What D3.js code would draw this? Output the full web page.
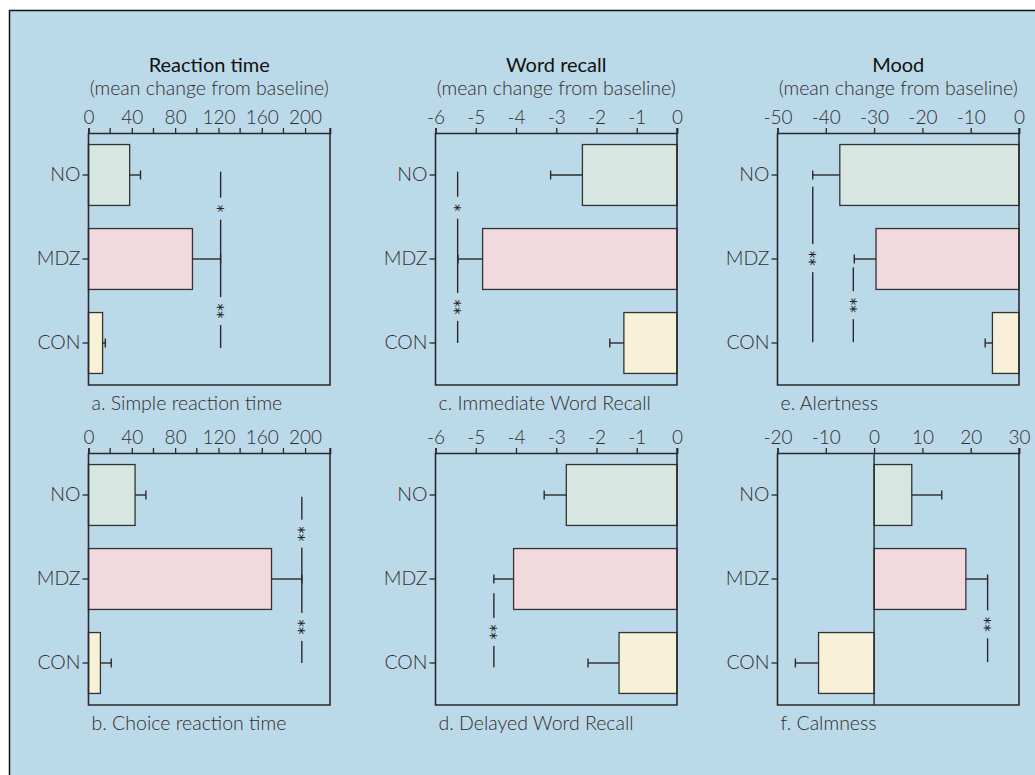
<!DOCTYPE html>
<html>
<head>
<meta charset="utf-8">
<script src="https://cdn.jsdelivr.net/npm/d3@7"></script>
<style>
  html, body { margin: 0; padding: 0; background: #ffffff; }
  svg text { font-family: "Lato", "Open Sans", "DejaVu Sans", sans-serif; fill: #2e2e2e; }
</style>
</head>
<body>
<svg id="chart" width="1035" height="775"></svg>
<script>
// ---------- data ----------
const categories = ["NO", "MDZ", "CON"];

const simpleRT      = [38, 96, 13];
const simpleRTErr   = [48, 122, 15.5];
const choiceRT      = [43, 169, 11];
const choiceRTErr   = [53, 197, 21];
const immRecall     = [-2.35, -4.83, -1.32];
const immRecallErr  = [-3.14, -5.44, -1.67];
const delRecall     = [-2.75, -4.06, -1.44];
const delRecallErr  = [-3.30, -4.55, -2.21];
const alertness     = [-37.1, -29.6, -5.5];
const alertnessErr  = [-42.7, -34.1, -7.0];
const calmness      = [7.8, 19.0, -11.5];
const calmnessErr   = [14.0, 23.5, -16.3];

const rtTickLabels     = [0, 40, 80, 120, 160, 200];
const rtMinorTicks     = [20, 60, 100, 140, 180];
const recallTickLabels = [-6, -5, -4, -3, -2, -1, 0];
const alertTickLabels  = [-50, -40, -30, -20, -10, 0];
const calmTickLabels   = [-20, -10, 0, 10, 20, 30];

const rtDomain     = [0, 223];
const recallDomain = [-6, 0];
const alertDomain  = [-50, 0];
const calmDomain   = [-20, 30];

const columnTitles    = ["Reaction time", "Word recall", "Mood"];
const columnSubtitle  = "(mean change from baseline)";
const captions = ["a. Simple reaction time", "b. Choice reaction time",
                  "c. Immediate Word Recall", "d. Delayed Word Recall",
                  "e. Alertness", "f. Calmness"];

// significance brackets: value position, from/to (category index units), star marks
const sigA = [{x: 122, y0: -0.04, y1: 2.06, marks: [{t: "*", at: 0.40}, {t: "**", at: 1.62}]}];
const sigB = [{x: 197, y0: 0.02, y1: 2.0, marks: [{t: "**", at: 0.46}, {t: "**", at: 1.57}]}];
const sigC = [{x: -5.45, y0: -0.04, y1: 2.0, marks: [{t: "*", at: 0.39}, {t: "**", at: 1.57}]}];
const sigD = [{x: -4.55, y0: 1.17, y1: 2.05, marks: [{t: "**", at: 1.63}]}];
const sigE = [{x: -42.7, y0: 0.14, y1: 1.99, marks: [{t: "**", at: 0.99}]},
              {x: -34.3, y0: 1.10, y1: 1.99, marks: [{t: "**", at: 1.55}]}];
const sigF = [{x: 23.5, y0: 1.04, y1: 1.99, marks: [{t: "**", at: 1.54}]}];

// ---------- layout ----------
const W = 1035, H = 775;
const colLeft = [88.5, 435.5, 777.5];
const rowTop = [133, 453];
const plotW = 241.5, plotH = 252;
const barColors = ["#d6e7e2", "#f2d8df", "#f7f1d8"];
const bg = "#bcd9ea";
const ink = "#2a2a2a";
const lightFont = '"Lato", "Open Sans", sans-serif';

const svg = d3.select("#chart");

// background with frame lines on left and top
svg.append("rect").attr("x", 9).attr("y", 10).attr("width", W - 9).attr("height", H - 10).attr("fill", bg);
svg.append("line").attr("x1", 9.5).attr("x2", 9.5).attr("y1", 10).attr("y2", H).attr("stroke", "#111").attr("stroke-width", 1.5);
svg.append("line").attr("x1", 9).attr("x2", W).attr("y1", 10.5).attr("y2", 10.5).attr("stroke", "#111").attr("stroke-width", 1.5);

const panels = [
  {col: 0, row: 0, vals: simpleRT, errs: simpleRTErr, domain: rtDomain, ticks: rtTickLabels, minor: rtMinorTicks, sig: sigA, cap: captions[0]},
  {col: 0, row: 1, vals: choiceRT, errs: choiceRTErr, domain: rtDomain, ticks: rtTickLabels, minor: rtMinorTicks, sig: sigB, cap: captions[1]},
  {col: 1, row: 0, vals: immRecall, errs: immRecallErr, domain: recallDomain, ticks: recallTickLabels, minor: [], sig: sigC, cap: captions[2]},
  {col: 1, row: 1, vals: delRecall, errs: delRecallErr, domain: recallDomain, ticks: recallTickLabels, minor: [], sig: sigD, cap: captions[3]},
  {col: 2, row: 0, vals: alertness, errs: alertnessErr, domain: alertDomain, ticks: alertTickLabels, minor: [], sig: sigE, cap: captions[4]},
  {col: 2, row: 1, vals: calmness, errs: calmnessErr, domain: calmDomain, ticks: calmTickLabels, minor: [], sig: sigF, cap: captions[5]},
];

// column titles
columnTitles.forEach((t, i) => {
  const cx = colLeft[i] + plotW / 2;
  svg.append("text").attr("x", cx).attr("y", 72).attr("text-anchor", "middle")
    .style("font-size", "20px").style("font-weight", 400).style("fill", "#111").text(t);
  svg.append("text").attr("x", cx).attr("y", 95).attr("text-anchor", "middle")
    .style("font-size", "19.5px").style("font-weight", 300).text(columnSubtitle);
});

panels.forEach(p => {
  const left = colLeft[p.col], top = rowTop[p.row];
  const g = svg.append("g").attr("transform", `translate(${left},${top})`);
  const x = d3.scaleLinear().domain(p.domain).range([0, plotW]);
  const y = d3.scaleBand().domain(categories).range([0, plotH]).paddingInner(0.275).paddingOuter(0.1375);
  const step = y.step();
  const center = i => y(categories[i]) + y.bandwidth() / 2;
  const idxY = v => y.bandwidth() / 2 + y(categories[0]) + v * step;

  // bars
  g.selectAll("rect.bar").data(p.vals).join("rect").attr("class", "bar")
    .attr("x", d => Math.min(x(0), x(d)))
    .attr("width", d => Math.abs(x(d) - x(0)))
    .attr("y", (d, i) => y(categories[i]))
    .attr("height", y.bandwidth())
    .attr("fill", (d, i) => barColors[i])
    .attr("stroke", "#333").attr("stroke-width", 1.3);

  // error bars
  p.errs.forEach((e, i) => {
    const cy = center(i);
    g.append("line").attr("x1", x(p.vals[i])).attr("x2", x(e)).attr("y1", cy).attr("y2", cy)
      .attr("stroke", ink).attr("stroke-width", 1.4);
    g.append("line").attr("x1", x(e)).attr("x2", x(e)).attr("y1", cy - 4.5).attr("y2", cy + 4.5)
      .attr("stroke", ink).attr("stroke-width", 1.4);
  });

  // zero line inside plot if zero is inside domain
  if (p.domain[0] < 0 && p.domain[1] > 0) {
    g.append("line").attr("x1", x(0)).attr("x2", x(0)).attr("y1", 0).attr("y2", plotH)
      .attr("stroke", ink).attr("stroke-width", 1.4);
  }

  // frame (left, right, bottom)
  g.append("path").attr("d", `M0,0 V${plotH} H${plotW} V0`).attr("fill", "none")
    .attr("stroke", ink).attr("stroke-width", 1.6);

  // top axis
  const axTop = d3.axisTop(x).tickValues(p.ticks).tickSize(5).tickPadding(4)
    .tickFormat(d => d < 0 ? "-" + Math.abs(d) : String(d));
  const ag = g.append("g").call(axTop);
  ag.select(".domain").attr("stroke", ink).attr("stroke-width", 1.6);
  ag.selectAll(".tick line").attr("stroke", ink).attr("stroke-width", 1.3);
  ag.selectAll(".tick text").style("font-size", "19px").style("font-weight", 300)
    .style("font-family", lightFont).attr("fill", "#2e2e2e");
  const extra = p.minor.concat([p.domain[1]]);
  g.selectAll("line.minor").data(extra).join("line").attr("class", "minor")
    .attr("x1", d => x(d)).attr("x2", d => x(d)).attr("y1", 0).attr("y2", -5)
    .attr("stroke", ink).attr("stroke-width", 1.3);

  // left category axis
  const axLeft = d3.axisLeft(y).tickSize(6).tickPadding(2);
  const lg = g.append("g").call(axLeft);
  lg.select(".domain").remove();
  lg.selectAll(".tick line").attr("stroke", ink).attr("stroke-width", 1.3);
  lg.selectAll(".tick text").style("font-size", "19.5px").style("font-weight", 300)
    .style("font-family", lightFont).attr("fill", "#2e2e2e");

  // significance brackets
  p.sig.forEach(s => {
    const sx = x(s.x);
    g.append("line").attr("x1", sx).attr("x2", sx).attr("y1", idxY(s.y0)).attr("y2", idxY(s.y1))
      .attr("stroke", ink).attr("stroke-width", 1.4);
    s.marks.forEach(m => {
      const my = idxY(m.at);
      const half = m.t.length === 1 ? 11 : 14;
      g.append("rect").attr("x", sx - 3).attr("y", my - half).attr("width", 6).attr("height", 2 * half)
        .attr("fill", bg);
      g.append("text").attr("transform", `translate(${sx},${my}) rotate(90)`)
        .attr("text-anchor", "middle").attr("dy", "0.57em")
        .style("font-family", '"DejaVu Sans", sans-serif')
        .style("font-size", "15px").style("font-weight", 400).style("fill", "#222").text(m.t);
    });
  });

  // caption
  g.append("text").attr("x", 3).attr("y", plotH + 25)
    .style("font-size", "19.5px").style("font-weight", 300).text(p.cap);
});
</script>
</body>
</html>
